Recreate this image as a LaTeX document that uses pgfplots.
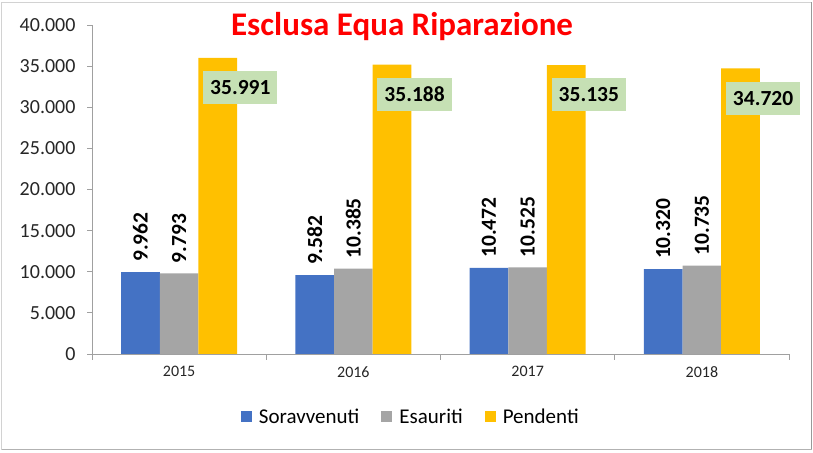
\documentclass[border=0pt]{standalone}
\usepackage{pgfplots}
\pgfplotsset{compat=1.18}
\usepackage{fontspec}
\setmainfont{Carlito}
\definecolor{cblue}{RGB}{68,114,196}
\definecolor{cgray}{RGB}{165,165,165}
\definecolor{cyellow}{RGB}{255,192,0}
\definecolor{cgreen}{RGB}{198,224,180}
\definecolor{axgray}{RGB}{160,160,160}
\pgfkeys{/pgf/number format/assume math mode=true}
\begin{document}
\begin{tikzpicture}[x=1pt,y=1pt]
\path[use as bounding box] (0,0) rectangle (813,452);
\draw[gray!35] (1.5,3) rectangle (811,449.5);
\draw[gray!80, line width=1.5pt] (811.5,3) -- (811.5,449.5);
\draw[gray!60, line width=1pt] (1.5,3) -- (811.5,3);
\begin{axis}[
  at={(92pt,98pt)}, anchor=south west,
  width=697pt, height=329pt, scale only axis,
  ybar=0pt, bar width=38.7pt,
  xmin=2014.5, xmax=2018.5, ymin=0, ymax=40000,
  xtick={2015,2016,2017,2018},
  xticklabel={\pgfmathprintnumber[fixed,precision=0,1000 sep={},assume math mode=true]{\tick}},
  minor xtick={2014.5,2015.5,2016.5,2017.5,2018.5},
  ytick={0,5000,...,40000},
  yticklabel={\pgfmathprintnumber[fixed,precision=0,1000 sep={.},assume math mode=true]{\tick}},
  scaled y ticks=false, scaled x ticks=false,
  axis lines*=left,
  axis line style={axgray, line width=0.8pt},
  tick align=outside,
  major tick length=5pt, minor tick length=6pt,
  major x tick style={draw=none},
  minor x tick style={axgray, line width=0.8pt},
  ytick style={axgray, line width=0.8pt},
  yticklabel style={font=\fontsize{20}{20}\selectfont, text=black!85, xshift=-8pt},
  xticklabel style={font=\fontsize{16}{16}\selectfont, text=black!85, yshift=-4pt},
  /pgf/number format/fixed,
  /pgf/number format/precision=0,
  /pgf/number format/1000 sep={.},
  /pgf/number format/assume math mode=true,
  title={Esclusa Equa Riparazione},
  title style={at={(0.4448,0.951)}, anchor=base, font=\bfseries\fontsize{33}{33}\selectfont, text=red},
  legend style={at={(0.456,-0.191)}, anchor=center, draw=none, legend columns=3,
    font=\fontsize{21}{21}\selectfont,
    nodes={inner xsep=0pt},
    /tikz/every odd column/.append style={column sep=7pt},
    /tikz/every even column/.append style={column sep=22pt}},
  clip=false,
]
\addplot[fill=cblue, draw=none,
  legend image code/.code={\fill[cblue] (0pt,-5.5pt) rectangle (11pt,5.5pt);},
  nodes near coords,
  every node near coord/.append style={rotate=90, anchor=west, font=\bfseries\fontsize{21.5}{21.5}\selectfont, text=black, inner xsep=10pt, inner ysep=0pt}]
  coordinates {(2015,9962) (2016,9582) (2017,10472) (2018,10320)};
\addplot[fill=cgray, draw=none,
  legend image code/.code={\fill[cgray] (0pt,-5.5pt) rectangle (11pt,5.5pt);},
  nodes near coords,
  every node near coord/.append style={rotate=90, anchor=west, font=\bfseries\fontsize{21.5}{21.5}\selectfont, text=black, inner xsep=10pt, inner ysep=0pt}]
  coordinates {(2015,9793) (2016,10385) (2017,10525) (2018,10735)};
\addplot[fill=cyellow, draw=none,
  legend image code/.code={\fill[cyellow] (0pt,-5.5pt) rectangle (11pt,5.5pt);},
  nodes near coords,
  every node near coord/.append style={anchor=north, xshift=22.5pt, yshift=-13pt, fill=cgreen, font=\bfseries\fontsize{21.5}{21.5}\selectfont, text=black, inner xsep=7pt, minimum height=33pt}]
  coordinates {(2015,35991) (2016,35188) (2017,35135) (2018,34720)};
\legend{Soravvenuti, Esauriti, Pendenti}
\end{axis}
\end{tikzpicture}
\end{document}
